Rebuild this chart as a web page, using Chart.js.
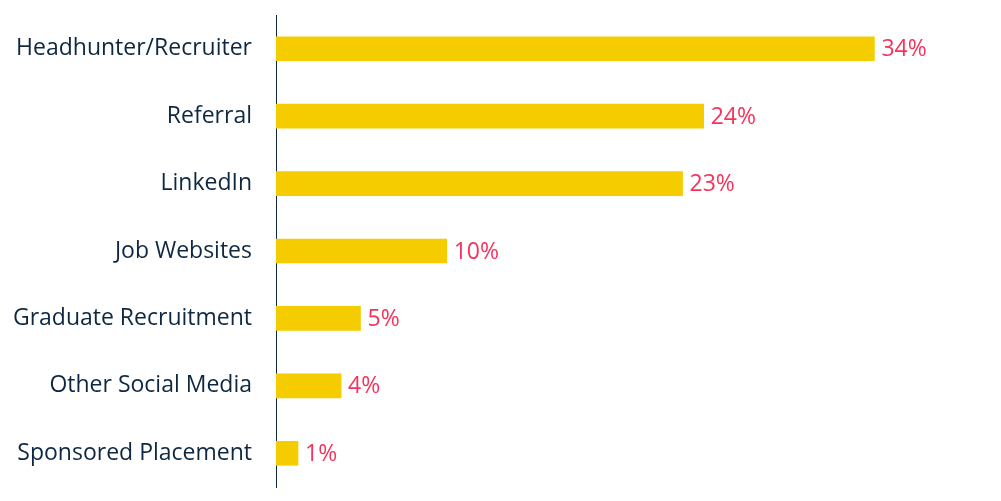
<!DOCTYPE html>
<html>
<head>
<meta charset="utf-8">
<script src="https://cdn.jsdelivr.net/npm/chart.js@4"></script>
<style>
html,body{margin:0;padding:0;background:#fff;}
#wrap{width:1001px;height:501px;}
</style>
</head>
<body>
<div id="wrap"><canvas id="c" width="1001" height="501"></canvas></div>
<script>
const categories = ["Headhunter/Recruiter","Referral","LinkedIn","Job Websites","Graduate Recruitment","Other Social Media","Sponsored Placement"];
const shares = [34.0, 24.3, 23.1, 9.7, 4.8, 3.7, 1.25];
const shareLabels = ["34%","24%","23%","10%","5%","4%","1%"];

const FONT = "'Open Sans', sans-serif";
const TEXT = "#0E2841";
const BAR = "#F5CC00";
const LABEL = "#F7325C";

const valueLabels = {
  id: 'valueLabels',
  afterDatasetsDraw(chart) {
    const ctx = chart.ctx;
    const meta = chart.getDatasetMeta(0);
    ctx.save();
    ctx.font = "23px " + FONT;
    ctx.fillStyle = LABEL;
    ctx.textAlign = 'left';
    ctx.textBaseline = 'middle';
    meta.data.forEach((el, i) => {
      ctx.fillText(shareLabels[i], el.x + 7, el.y + 1);
    });
    ctx.restore();
  }
};

new Chart(document.getElementById('c'), {
  type: 'bar',
  data: {
    labels: categories,
    datasets: [{
      data: shares,
      backgroundColor: BAR,
      borderWidth: 0,
      barThickness: 24
    }]
  },
  options: {
    indexAxis: 'y',
    responsive: false,
    animation: false,
    layout: { padding: { top: 15, bottom: 14, left: 0, right: 21 } },
    plugins: { legend: { display: false }, tooltip: { enabled: false } },
    scales: {
      x: { display: false, min: 0, max: 40 },
      y: {
        grid: { display: false, drawTicks: false },
        border: { display: true, color: TEXT, width: 1 },
        ticks: { color: TEXT, font: { family: FONT, size: 23 }, padding: 24 },
        afterFit(scale) { scale.width = 276; scale.paddingTop = 0; scale.paddingBottom = 0; }
      }
    }
  },
  plugins: [valueLabels]
});
</script>
</body>
</html>
